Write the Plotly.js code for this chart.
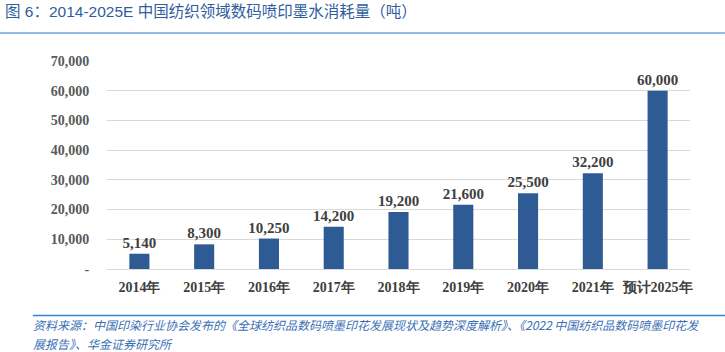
<!DOCTYPE html>
<html><head><meta charset="utf-8">
<script src="https://cdn.plot.ly/plotly-3.0.1.min.js"></script>
<style>body{margin:0;padding:0;background:#fff}#chart{width:725px;height:352px}</style>
</head><body><div id="chart"></div>
<script>
const categories = ['2014年','2015年','2016年','2017年','2018年','2019年','2020年','2021年','预计2025年'];
const inkTons = [5140, 8300, 10250, 14200, 19200, 21600, 25500, 32200, 60000];
const yTickVals = [0, 10000, 20000, 30000, 40000, 50000, 60000, 70000];
const yTickText = ['-', '10,000', '20,000', '30,000', '40,000', '50,000', '60,000', '70,000'];
const titleText = '图 6：2014-2025E 中国纺织领域数码喷印墨水消耗量（吨）';
const sourceText = '资料来源：中国印染行业协会发布的《全球纺织品数码喷墨印花发展现状及趋势深度解析》、《2022 中国纺织品数码喷墨印花发';
const sourceText2 = '展报告》、华金证券研究所';

const serif = '"Liberation Serif", "Times New Roman", serif';
const trace = {
  type: 'bar', x: categories, y: inkTons,
  marker: {color: '#2f5b94'},
  texttemplate: '<b>%{y:,}</b>', textposition: 'outside', cliponaxis: false, constraintext: 'none',
  textfont: {family: serif, size: 15, color: '#404040'},
  hoverinfo: 'none'
};
const srcFont = {family: '"Noto Sans CJK SC", sans-serif', size: 12, color: '#3a6fb5'};
const layout = {
  width: 725, height: 352,
  margin: {l: 107, r: 35, t: 61, b: 83},
  paper_bgcolor: '#fff', plot_bgcolor: '#fff',
  bargap: 0.69, showlegend: false,
  xaxis: {
    type: 'category', tickfont: {family: serif, size: 14, color: '#404040', weight: 'bold'},
    showline: false, showgrid: false, ticks: 'outside', ticklen: 5, tickcolor: 'rgba(0,0,0,0)'
  },
  yaxis: {
    range: [0, 70000], tickvals: yTickVals, ticktext: yTickText,
    tickfont: {family: serif, size: 14, color: '#595959', weight: 'bold'},
    showgrid: true, gridcolor: '#d9d9d9', gridwidth: 1,
    zeroline: true, zerolinecolor: '#d9d9d9', zerolinewidth: 1,
    ticks: 'outside', ticklen: 14, tickcolor: 'rgba(0,0,0,0)'
  },
  shapes: [
    {type: 'line', xref: 'paper', yref: 'paper', x0: -0.218, x1: 1.06, y0: 1.135, y1: 1.135,
     line: {color: '#6fa6dc', width: 1.5}},
    {type: 'line', xref: 'paper', yref: 'paper', x0: -0.127, x1: 1.07, y0: -0.224, y1: -0.224,
     line: {color: '#2e86d4', width: 1.5}}
  ],
  annotations: [
    {xref: 'paper', yref: 'paper', x: -0.178, y: 1.24, xanchor: 'left', yanchor: 'middle', showarrow: false,
     text: titleText, font: {family: 'Arial, "Liberation Sans", "Noto Sans CJK SC"', size: 15.5, color: '#2f5d9e'}},
    {xref: 'paper', yref: 'paper', x: -0.128, y: -0.2692, xanchor: 'left', yanchor: 'middle', showarrow: false,
     borderpad: 0, text: '<i>' + sourceText + '</i>', font: srcFont},
    {xref: 'paper', yref: 'paper', x: -0.128, y: -0.3558, xanchor: 'left', yanchor: 'middle', showarrow: false,
     borderpad: 0, text: '<i>' + sourceText2 + '</i>', font: srcFont}
  ]
};
Plotly.newPlot('chart', [trace], layout, {displayModeBar: false, staticPlot: true});
</script></body></html>
